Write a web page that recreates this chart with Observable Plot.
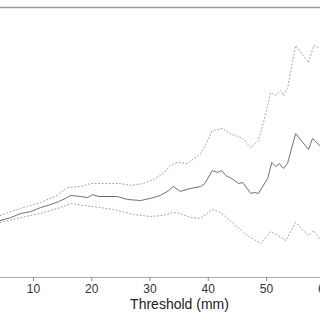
<!DOCTYPE html>
<html>
<head>
<meta charset="utf-8">
<script src="https://cdn.jsdelivr.net/npm/d3@7"></script>
<script src="https://cdn.jsdelivr.net/npm/@observablehq/plot@0.6"></script>
<style>
  html, body { margin: 0; padding: 0; background: #fff; overflow: hidden; width: 320px; height: 320px; }
  #chart svg { display: block; max-width: none !important; }
</style>
</head>
<body>
<div id="chart"></div>
<script>
// Estimate line (solid)
const estX = [4.3, 6.1, 7.8, 9.5, 11.2, 12.9, 14.3, 15.5, 16.4, 18.1, 19.3, 20.1, 21.2, 24.4, 26.1, 28.4, 30.6, 31.8, 33.2, 34.0, 35.2, 37.0, 38.7, 39.4, 40.7, 41.6, 42.3, 43.0, 44.3, 45.2, 45.9, 47.3, 47.9, 48.6, 50.2, 50.9, 51.6, 52.2, 52.9, 53.6, 55.0, 57.2, 57.9, 59.3];
const estY = [2.11, 2.22, 2.37, 2.44, 2.59, 2.70, 2.81, 2.93, 3.04, 3.00, 2.96, 3.07, 3.00, 3.00, 2.89, 2.85, 2.96, 3.04, 3.22, 3.37, 3.19, 3.30, 3.37, 3.48, 3.96, 3.89, 3.96, 3.78, 3.63, 3.48, 3.52, 3.11, 3.15, 3.11, 3.67, 4.26, 4.11, 4.22, 4.04, 4.22, 5.33, 4.74, 5.15, 4.85];

// Upper confidence bound (dotted)
const upX = [4.3, 7.8, 11.2, 14.1, 15.8, 18.1, 19.8, 21.5, 24.9, 26.7, 28.9, 30.6, 32.3, 33.5, 34.7, 36.4, 38.7, 39.9, 40.7, 42.4, 43.8, 45.9, 47.3, 48.6, 49.8, 50.7, 51.6, 52.4, 52.9, 53.6, 54.5, 55.0, 57.2, 58.1, 59.3];
const upY = [2.30, 2.56, 2.78, 3.04, 3.33, 3.37, 3.48, 3.48, 3.48, 3.41, 3.48, 3.63, 3.85, 4.15, 4.26, 4.22, 4.59, 5.07, 5.44, 5.52, 5.33, 5.15, 4.81, 5.07, 6.00, 6.85, 6.74, 6.93, 6.74, 7.00, 8.04, 8.59, 7.96, 8.59, 8.48];

// Lower confidence bound (dotted)
const loX = [4.3, 7.8, 11.2, 14.6, 16.4, 18.6, 21.5, 23.7, 27.2, 30.1, 32.3, 33.9, 35.2, 36.9, 38.7, 40.7, 42.1, 44.3, 46.7, 49.0, 50.7, 51.9, 53.3, 55.0, 57.2, 58.1, 59.3];
const loY = [2.04, 2.22, 2.37, 2.59, 2.74, 2.67, 2.59, 2.52, 2.33, 2.26, 2.30, 2.41, 2.37, 2.22, 2.19, 2.52, 2.41, 2.00, 1.56, 1.26, 1.70, 1.56, 1.37, 2.04, 1.56, 1.74, 1.37];

const xTicks = [10, 20, 30, 40, 50, 60];
const xTitle = "Threshold (mm)";

const est = estX.map((x, i) => ({x, y: estY[i]}));
const up = upX.map((x, i) => ({x, y: upY[i]}));
const lo = loX.map((x, i) => ({x, y: loY[i]}));

const W = 358;
const pxPerUnit = 5.825;
const x0 = 4.33;

const chart = Plot.plot({
  width: W,
  height: 320,
  marginLeft: 0,
  marginRight: 0,
  marginTop: 7,
  marginBottom: 43,
  style: {fontFamily: "'Liberation Sans', Arial, sans-serif", background: "#fff", maxWidth: "none"},
  x: {domain: [x0, x0 + W / pxPerUnit]},
  y: {domain: [0, 10], axis: null},
  marks: [
    Plot.ruleY([10], {stroke: "#9a9a9a", strokeWidth: 1.5}),
    Plot.ruleY([0], {stroke: "#a8a8a8", strokeWidth: 1}),
    Plot.axisX({ticks: xTicks, tickSize: 4, tickPadding: 3, stroke: "#888", fill: "#333", fontSize: 12, label: null}),
    Plot.line(up, {x: "x", y: "y", stroke: "#a0a0a0", strokeWidth: 1, strokeDasharray: "1,2.5"}),
    Plot.line(lo, {x: "x", y: "y", stroke: "#a0a0a0", strokeWidth: 1, strokeDasharray: "1,2.5"}),
    Plot.line(est, {x: "x", y: "y", stroke: "#707070", strokeWidth: 1}),
    Plot.text([xTitle], {frameAnchor: "bottom", dy: 31, fontSize: 14, fill: "#222"})
  ]
});
document.getElementById("chart").appendChild(chart);
</script>
</body>
</html>
